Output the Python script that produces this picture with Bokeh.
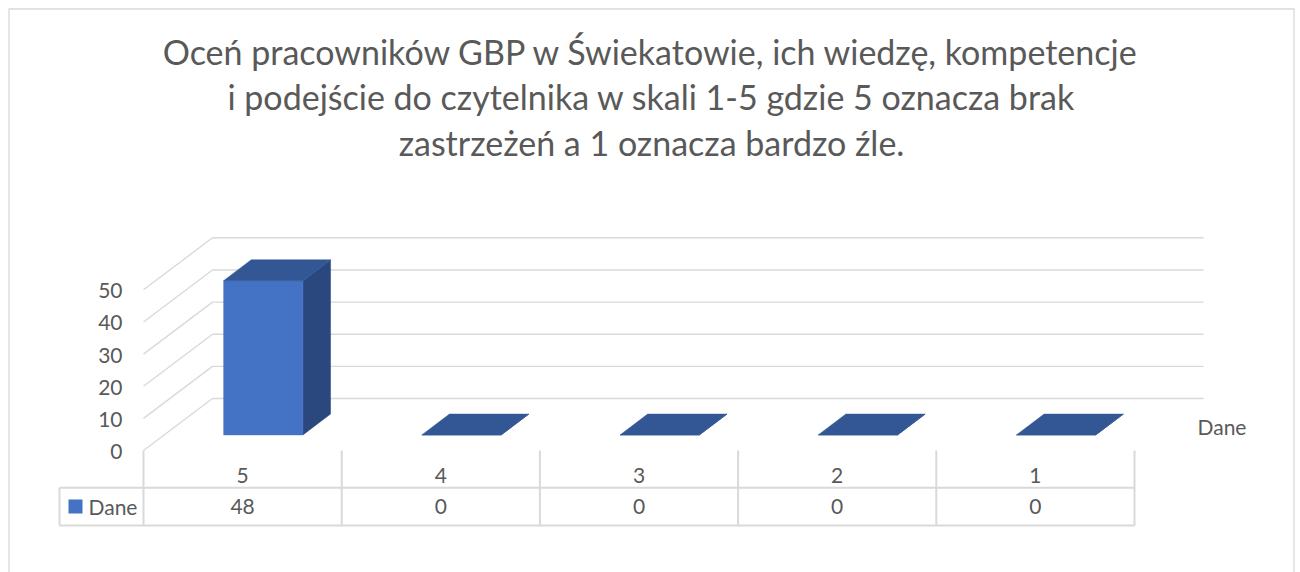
from bokeh.plotting import figure
from bokeh.models import Range1d
from bokeh.core.properties import value
from bokeh.embed import file_html
from bokeh.resources import INLINE

# ---------------- data ----------------
title_lines = [
    "Oceń pracowników GBP w Świekatowie, ich wiedzę, kompetencje",
    "i podejście do czytelnika w skali 1-5 gdzie 5 oznacza brak",
    "zastrzeżeń a 1 oznacza bardzo źle.",
]
categories = ["5", "4", "3", "2", "1"]
series_name = "Dane"
values = [48, 0, 0, 0, 0]
y_ticks = [0, 10, 20, 30, 40, 50]

# ---------------- layout (pixels) ----------------
W, H = 1300, 572
FONT = "Lato"
TEXT = "#595959"
GRID = "#D9D9D9"
FRONT = "#4472C4"
TOP = "#335694"
SIDE = "#2A487D"

col_px = 198.2          # width of one category column
x0_px = 143             # left of first column
unit_px = 3.214         # px per value unit
y0_px = 450             # px of value 0 on front plane
depth_dx_px, depth_dy_px = 69.0, 52.0

x_start = -x0_px / col_px
x_end = (W - x0_px) / col_px
y_end = y0_px / unit_px
y_start = -(H - y0_px) / unit_px

DX = depth_dx_px / col_px
DY = depth_dy_px / unit_px

def py(px):
    return px / unit_px

def pxx(px):
    return px / col_px

def sx(X):
    return (X - x0_px) / col_px

def sy(Y):
    return (y0_px - Y) / unit_px

def proj(x, v, d):
    return x + d * DX, v + d * DY

p = figure(width=W, height=H, output_backend="svg", toolbar_location=None,
           x_range=Range1d(x_start, x_end), y_range=Range1d(y_start, y_end),
           min_border=0)
p.axis.visible = False
p.xgrid.visible = False
p.ygrid.visible = False
p.background_fill_color = "white"
p.border_fill_color = "white"
p.outline_line_color = None

# chart border (top, left, right)
p.line([sx(8.5), sx(8.5), sx(1293.5), sx(1293.5)],
       [sy(H + 5), sy(8.5), sy(8.5), sy(H + 5)], line_color=GRID, line_width=1.3)

n = len(categories)

# ---- walls (gridlines) ----
for t in y_ticks:
    a = proj(0, t, 0)
    b = proj(0, t, 1)
    c = proj(n, t, 1)
    p.line([a[0], b[0], c[0]], [a[1], b[1], c[1]], line_color=GRID, line_width=1.4)

# ---- bars ----
bw = 0.4
d0, d1 = 0.3, 0.7
front_xs, front_ys, top_xs, top_ys, side_xs, side_ys = [], [], [], [], [], []
for i, v in enumerate(values):
    xa = i + 0.5 - bw / 2
    xb = i + 0.5 + bw / 2
    pts = [proj(xa, 0, d0), proj(xb, 0, d0), proj(xb, v, d0), proj(xa, v, d0)]
    front_xs.append([q[0] for q in pts]); front_ys.append([q[1] for q in pts])
    pts = [proj(xb, 0, d0), proj(xb, 0, d1), proj(xb, v, d1), proj(xb, v, d0)]
    side_xs.append([q[0] for q in pts]); side_ys.append([q[1] for q in pts])
    pts = [proj(xa, v, d0), proj(xb, v, d0), proj(xb, v, d1), proj(xa, v, d1)]
    top_xs.append([q[0] for q in pts]); top_ys.append([q[1] for q in pts])

p.patches(side_xs, side_ys, fill_color=SIDE, line_color=SIDE, line_width=0.5)
p.patches(front_xs, front_ys, fill_color=FRONT, line_color=FRONT, line_width=0.5)
p.patches(top_xs, top_ys, fill_color=TOP, line_color=TOP, line_width=0.5)

# ---- value axis labels ----
p.text(x=[-pxx(21)] * len(y_ticks), y=y_ticks, text=[str(t) for t in y_ticks],
       text_font=value(FONT), text_font_size="21px", text_color=TEXT,
       text_align="right", text_baseline="middle", y_offset=1)

# ---- depth axis label ----
p.text(x=[sx(1197)], y=[sy(425.5)], text=[series_name],
       text_font=value(FONT), text_font_size="21px", text_color=TEXT,
       text_align="left", text_baseline="middle")

# ---- data table ----
row1 = sy(487.3)
row2 = sy(525)
key_left = sx(59)
p.line([key_left, n], [row1, row1], line_color=GRID, line_width=2)
p.line([key_left, n], [row2, row2], line_color=GRID, line_width=2)
p.line([key_left, key_left], [row1, row2], line_color=GRID, line_width=2)
for i in range(n + 1):
    p.line([i, i], [0, row2], line_color=GRID, line_width=2)

p.text(x=[i + 0.5 for i in range(n)], y=[sy(474.5)] * n, text=categories,
       text_font=value(FONT), text_font_size="21px", text_color=TEXT,
       text_align="center", text_baseline="middle")
p.text(x=[i + 0.5 for i in range(n)], y=[sy(506.3)] * n, text=[str(v) for v in values],
       text_font=value(FONT), text_font_size="21px", text_color=TEXT,
       text_align="center", text_baseline="middle")

# legend key in table
p.rect(x=[sx(75)], y=[sy(506)], width=pxx(14), height=py(14),
       fill_color=FRONT, line_color=None)
p.text(x=[sx(88)], y=[sy(506)], text=[series_name],
       text_font=value(FONT), text_font_size="21px", text_color=TEXT,
       text_align="left", text_baseline="middle")

# ---- title ----
title_center = sx(651)
title_y = [sy(50.5), sy(96), sy(141.5)]
p.text(x=[title_center] * 3, y=title_y, text=title_lines,
       text_font=value(FONT), text_font_size="34px", text_color=TEXT,
       text_align="center", text_baseline="middle")

open("out.html", "w").write(file_html(p, INLINE))
